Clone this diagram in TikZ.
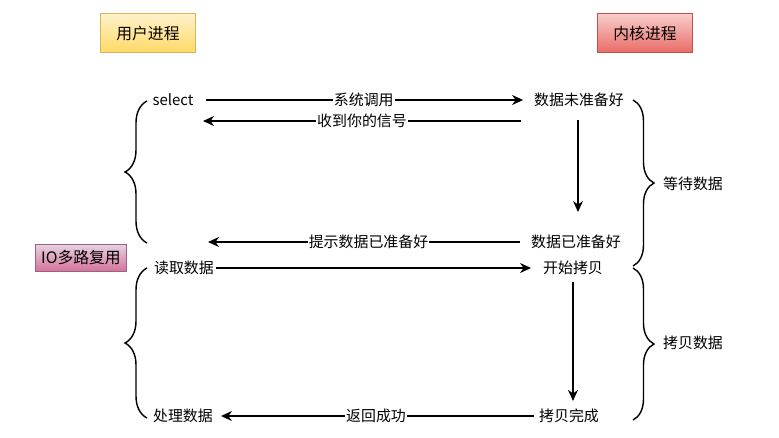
\documentclass[tikz,border=0pt]{standalone}
\usepackage{fontspec}
\setmainfont{Noto Sans CJK SC}
\usetikzlibrary{arrows.meta, positioning, calc, decorations.pathreplacing}
\usepackage{xcolor}

\definecolor{userTop}{HTML}{FFF2CC}
\definecolor{userBot}{HTML}{FFD966}
\definecolor{userLine}{HTML}{D6B656}
\definecolor{kernTop}{HTML}{F8CECC}
\definecolor{kernBot}{HTML}{EA6B66}
\definecolor{kernLine}{HTML}{B85450}
\definecolor{ioTop}{HTML}{E6D0DE}
\definecolor{ioBot}{HTML}{D5739D}
\definecolor{ioLine}{HTML}{996185}

\begin{document}
\begin{tikzpicture}[
    x=0.02cm, y=-0.02cm, % pixel grid of the drawing
    box/.style={rectangle, draw, line width=0.5pt, minimum width=1.9cm, minimum height=0.78cm, align=center, font=\fontsize{9}{11}\selectfont},
    txt/.style={inner sep=1pt, font=\fontsize{8.5}{10}\selectfont},
    lbl/.style={fill=white, inner sep=0.5pt, font=\fontsize{8.5}{10}\selectfont},
    arrow/.style={-{Stealth[length=2.2mm, width=2mm]}, line width=0.8pt},
    curly/.style={decorate, line width=0.8pt}
]
    \useasboundingbox (0,0) rectangle (779,437);

    % Process headers
    \node[box, draw=userLine, top color=userTop, bottom color=userBot] (user) at (148,33) {用户进程};
    \node[box, draw=kernLine, top color=kernTop, bottom color=kernBot] (kernel) at (645,33) {内核进程};
    \node[box, draw=ioLine, top color=ioTop, bottom color=ioBot, minimum width=1.8cm, minimum height=0.42cm] (io) at (81,258) {IO多路复用};

    % User side
    \node[txt] (select) at (173,100) {select};
    \node[txt] (read) at (184,268) {读取数据};
    \node[txt] (handle) at (183,416) {处理数据};

    % Kernel side
    \node[txt] (notready) at (579,100) {数据未准备好};
    \node[txt] (ready) at (576,242) {数据已准备好};
    \node[txt] (startcopy) at (573,268) {开始拷贝};
    \node[txt] (copydone) at (569,416) {拷贝完成};

    % Phase labels
    \node[txt] (wait) at (693,184) {等待数据};
    \node[txt] (copy) at (693,343) {拷贝数据};

    % Free ends
    \coordinate (sigfrom) at (521,121);
    \coordinate (sigto) at (203,121);
    \coordinate (waitend) at (578,212);
    \coordinate (hintto) at (208,242);

    % Wait phase
    \draw[arrow, shorten <=0.2cm, shorten >=0.18cm] (select) -- node[lbl] {系统调用} (notready);
    \draw[arrow] (sigfrom) -- node[lbl] {收到你的信号} (sigto);
    \draw[arrow, shorten <=0.22cm] (notready.south -| waitend) -- (waitend);
    \draw[arrow, shorten <=0.18cm] (ready.west) -- node[lbl] {提示数据已准备好} (hintto);

    % Copy phase
    \draw[arrow, shorten >=0.2cm] (read) -- (startcopy);
    \draw[arrow, shorten <=0.1cm, shorten >=0.12cm] (startcopy.south) -- (startcopy.south |- copydone.north);
    \draw[arrow, shorten <=0.06cm, shorten >=0.12cm] (copydone) -- node[lbl] {返回成功} (handle);

    % Braces
    \draw[curly, decoration={brace, amplitude=0.44cm}] (147,243) -- (147,101);
    \draw[curly, decoration={brace, amplitude=0.44cm}] (147,418) -- (147,268);
    \draw[curly, decoration={brace, amplitude=0.42cm}] (633,100) -- (633,266);
    \draw[curly, decoration={brace, amplitude=0.42cm}] (633,268) -- (633,420);
\end{tikzpicture}
\end{document}
